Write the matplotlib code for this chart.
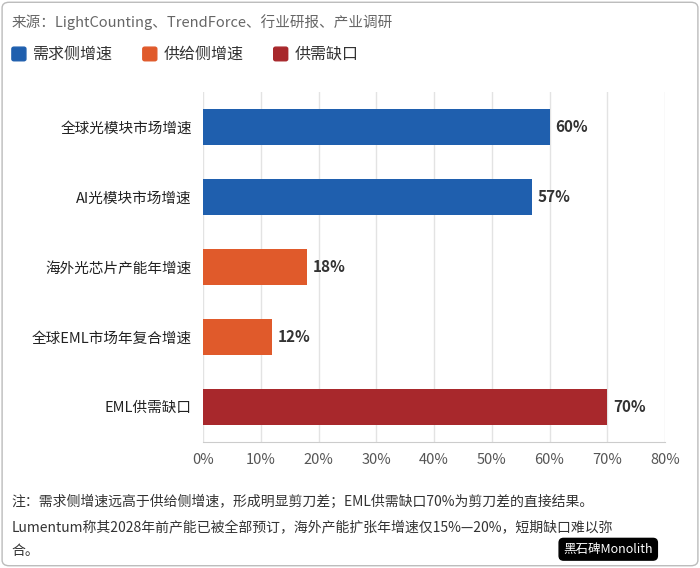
import matplotlib.pyplot as plt
from matplotlib.patches import FancyBboxPatch

plt.rcParams['font.family'] = ['Noto Sans CJK SC', 'DejaVu Sans']

categories = ['全球光模块市场增速', 'AI光模块市场增速', '海外光芯片产能年增速', '全球EML市场年复合增速', 'EML供需缺口']
values = [60, 57, 18, 12, 70]
groups = ['需求侧增速', '需求侧增速', '供给侧增速', '供给侧增速', '供需缺口']
colors = {'需求侧增速': '#1f5fae', '供给侧增速': '#e05a2b', '供需缺口': '#a8282c'}

fig = plt.figure(figsize=(7, 5.68), dpi=100)
ax = fig.add_axes([0.29, 0.222, 0.66, 0.616])

ypos = list(range(len(categories)))
ax.barh(ypos, values, height=0.51, color=[colors[g] for g in groups], zorder=3)
for y, v in zip(ypos, values):
    ax.text(v + 1, y, f'{v}%', va='center', ha='left', fontsize=11, fontweight='bold', color='#333333')

ax.set_ylim(4.5, -0.5)
ax.set_xlim(0, 80)
ax.set_xticks(range(0, 81, 10))
ax.set_xticklabels([f'{t}%' for t in range(0, 81, 10)], fontsize=10.5, color='#555555')
ax.set_yticks(ypos)
ax.set_yticklabels(categories, fontsize=10.5, color='#222222')
ax.tick_params(length=0, pad=8)
ax.grid(axis='x', color='#e3e3e3', linewidth=1, zorder=0)
for s in ['top', 'right', 'left']:
    ax.spines[s].set_visible(False)
ax.spines['bottom'].set_color('#cccccc')

fig.text(0.017, 0.962, '来源：LightCounting、TrendForce、行业研报、产业调研', fontsize=10.5, color='#666666', va='center')

lx = 0.017
for name in ['需求侧增速', '供给侧增速', '供需缺口']:
    fig.patches.append(FancyBboxPatch((lx, 0.893), 0.02, 0.024, boxstyle='round,pad=0,rounding_size=0.003',
                                      transform=fig.transFigure, color=colors[name]))
    fig.text(lx + 0.03, 0.905, name, fontsize=11.5, color='#333333', va='center')
    lx += 0.187

fig.text(0.017, 0.116, '注：需求侧增速远高于供给侧增速，形成明显剪刀差；EML供需缺口70%为剪刀差的直接结果。', fontsize=10, color='#333333', va='center')
fig.text(0.017, 0.072, 'Lumentum称其2028年前产能已被全部预订，海外产能扩张年增速仅15%—20%，短期缺口难以弥', fontsize=10, color='#333333', va='center')
fig.text(0.017, 0.030, '合。', fontsize=10, color='#333333', va='center')

fig.text(0.805, 0.033, '黑石碑Monolith', fontsize=9, color='white', va='center', ha='left',
         bbox=dict(boxstyle='round,pad=0.35', fc='black', ec='black'))

fig.patches.append(FancyBboxPatch((0.003, 0.004), 0.994, 0.992, boxstyle='round,pad=0,rounding_size=0.01',
                                  transform=fig.transFigure, fill=False, ec='#bbbbbb', lw=1))

fig.savefig('out.png')
